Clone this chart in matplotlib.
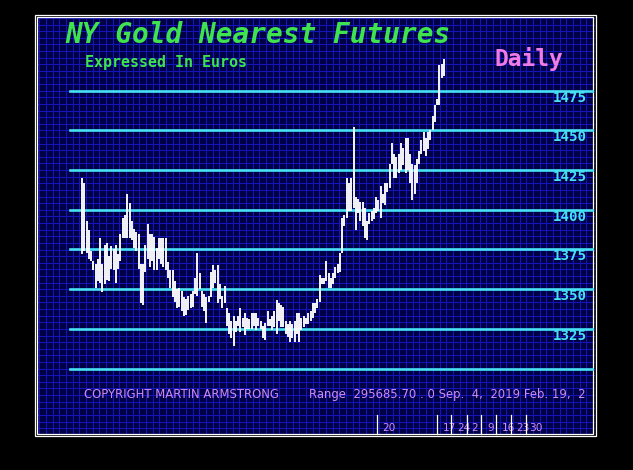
import matplotlib
matplotlib.use("Agg")
import matplotlib.pyplot as plt
from matplotlib.patches import Rectangle
import matplotlib.transforms as mtransforms
import numpy as np

# ---------------- data ----------------
title = "NY Gold Nearest Futures"
subtitle = "Expressed In Euros"
period_label = "Daily"
copyright_text = "COPYRIGHT MARTIN ARMSTRONG"
range_text = "Range  295685.70 . 0 Sep.  4,  2019 Feb. 19,  2"

highs = [1420, 1417, 1393, 1387, 1374, 1368, 1366, 1369, 1382, 1366,
         1378, 1379, 1371, 1377, 1375, 1378, 1372, 1385, 1395, 1397,
         1410, 1404, 1393, 1388, 1386, 1385, 1366, 1366, 1378, 1391,
         1385, 1385, 1383, 1376, 1382, 1382, 1382, 1382, 1367, 1362,
         1362, 1355, 1350, 1351,
         1349, 1345, 1344, 1346, 1347, 1349, 1357, 1373, 1360, 1349,
         1347, 1345, 1346, 1361, 1365, 1362, 1365, 1353, 1346, 1352,
         1338, 1335, 1330, 1333, 1330, 1333, 1338, 1332, 1335, 1332,
         1331, 1335, 1335, 1335, 1332, 1330, 1327, 1329, 1336, 1331,
         1333, 1336,
         1343, 1341, 1340, 1339, 1330, 1328, 1330, 1328, 1330, 1335,
         1335, 1332, 1333, 1332, 1335, 1336, 1341, 1341, 1344, 1359,
         1357, 1357, 1368, 1360, 1357, 1360, 1364, 1366, 1373, 1395,
         1397, 1420, 1417, 1420, 1452, 1408, 1407, 1405, 1405, 1401,
         1393, 1398, 1399, 1401, 1408, 1406, 1415, 1410, 1417, 1417,
         1429, 1442, 1435, 1433, 1435, 1442, 1439, 1445, 1445, 1435,
         1429, 1428, 1432, 1437, 1444, 1449, 1445, 1449, 1450, 1459,
         1466, 1470, 1491, 1492, 1495]
lows = [1372, 1374, 1373, 1369, 1368, 1362, 1351, 1355, 1354, 1348,
        1353, 1356, 1355, 1363, 1362, 1354, 1363, 1368, 1382, 1382,
        1382, 1382, 1381, 1376, 1374, 1363, 1341, 1340, 1361, 1369,
        1364, 1368, 1362, 1362, 1369, 1366, 1364, 1362, 1357, 1351,
        1345, 1342, 1338, 1339,
        1336, 1333, 1334, 1337, 1338, 1339, 1347, 1346, 1350, 1339,
        1336, 1329, 1342, 1345, 1351, 1354, 1341, 1344, 1338, 1341,
        1327, 1322, 1319, 1314, 1323, 1327, 1323, 1326, 1321, 1325,
        1325, 1325, 1327, 1324, 1327, 1325, 1319, 1318, 1327, 1327,
        1324, 1326,
        1322, 1330, 1326, 1326, 1322, 1320, 1317, 1319, 1317, 1322,
        1317, 1324, 1326, 1328, 1328, 1330, 1332, 1335, 1338, 1342,
        1353, 1353, 1355, 1351, 1351, 1353, 1357, 1360, 1361, 1373,
        1390, 1395, 1399, 1399, 1401, 1387, 1398, 1393, 1390, 1382,
        1381, 1391, 1393, 1394, 1398, 1399, 1395, 1404, 1403, 1411,
        1414, 1429, 1420, 1420, 1423, 1425, 1428, 1423, 1425, 1417,
        1406, 1410, 1417, 1429, 1435, 1437, 1434, 1438, 1444, 1450,
        1455, 1466, 1466, 1483, 1484]

levels = [1300, 1325, 1350, 1375, 1400, 1425, 1450, 1475]
level_labels = ["", "1325", "1350", "1375", "1400", "1425", "1450", "1475"]

date_ticks = ["20", "17", "24", "2", "9", "16", "23", "30"]

# ---------------- styling ----------------
W, H = 633, 470
BG_NAVY = "#000044"
GRID_BLUE = "#1414b8"
CYAN = "#46e2f4"
GREEN = "#3fe34e"
PINK = "#f07ae6"
VIOLET = "#cf8cf2"

fig = plt.figure(figsize=(W / 100, H / 100), dpi=100, facecolor="black")

# background (pixel coordinates)
bg = fig.add_axes([0, 0, 1, 1])
bg.set_xlim(0, W)
bg.set_ylim(H, 0)
bg.axis("off")
bg.set_facecolor("black")

px_l, px_r, px_t, px_b = 37.0, 593.5, 17.0, 433.5
bg.add_patch(Rectangle((px_l, px_t), px_r - px_l, px_b - px_t,
                       facecolor=BG_NAVY, edgecolor="none", zorder=0))
# grid
gx = 39.3
while gx < px_r:
    bg.plot([gx, gx], [px_t, px_b], color=GRID_BLUE, lw=0.75, zorder=1)
    gx += 6.67
step_y = 39.7 / 6
gy = 90.7
while gy - step_y > px_t:
    gy -= step_y
while gy < px_b:
    bg.plot([px_l, px_r], [gy, gy], color=GRID_BLUE, lw=0.75, zorder=1)
    gy += step_y

# double white frame
bg.add_patch(Rectangle((34.5, 14.5), 595.8 - 34.5, 436.2 - 14.5,
                       fill=False, edgecolor="white", lw=0.9, zorder=5))
bg.add_patch(Rectangle((36.7, 16.7), 593.4 - 36.7, 433.8 - 16.7,
                       fill=False, edgecolor="white", lw=0.9, zorder=5))

# bottom date ticks
tick_px = [376.5, 436.5, 451.3, 466.5, 481.2, 496.2, 511.2, 526.2]
label_px = [382.5, 442.5, 457.0, 471.5, 487.0, 501.5, 516.0, 529.0]
for tx, lx, lab in zip(tick_px, label_px, date_ticks):
    bg.plot([tx, tx], [415, 434], color="white", lw=0.9, zorder=4)
    bg.text(lx, 428, lab, color=VIOLET, fontsize=7.6, family="DejaVu Sans",
            ha="left", va="center", zorder=4)

# texts
bg.text(65, 35, title, color=GREEN, fontsize=20, family="DejaVu Sans Mono",
        weight="bold", style="oblique", ha="left", va="center", zorder=4)
bg.text(85, 62.5, subtitle, color=GREEN, fontsize=10.8, family="DejaVu Sans Mono",
        weight="bold", ha="left", va="center", zorder=4)
bg.text(494, 59, period_label, color=PINK, fontsize=16.5, family="DejaVu Sans Mono",
        weight="bold", ha="left", va="center", zorder=4)
bg.text(84, 394.5, copyright_text, color=VIOLET, fontsize=8.4, family="DejaVu Sans",
        ha="left", va="center", zorder=4)
t = bg.text(309, 394.5, range_text, color=VIOLET, fontsize=8.4, family="DejaVu Sans",
            ha="left", va="center", zorder=4)
t.set_clip_path(Rectangle((0, 0), 596, H, transform=bg.transData))

# ---------------- data axes ----------------
n = len(highs)
x0_px, x1_px = 82.0, 444.0
dx = (x1_px - x0_px) / (n - 1)
ax_left_px, ax_right_px = px_l, px_r
ax_top_px, ax_bot_px = px_t, px_b
ppu = 39.7 / 25.0  # pixels per price unit
ymax = 1475 + (90.7 - ax_top_px) / ppu
ymin = 1475 - (ax_bot_px - 90.7) / ppu
xmin = (ax_left_px - x0_px) / dx
xmax = (ax_right_px - x0_px) / dx

ax = fig.add_axes([ax_left_px / W, 1 - ax_bot_px / H,
                   (ax_right_px - ax_left_px) / W, (ax_bot_px - ax_top_px) / H])
ax.set_facecolor("none")
ax.axis("off")
ax.set_xlim(xmin, xmax)
ax.set_ylim(ymin, ymax)

line_start = (70 - ax_left_px) / (ax_right_px - ax_left_px)
for lev, lab in zip(levels, level_labels):
    ax.axhline(lev, xmin=line_start, xmax=1.0, color=CYAN, lw=1.9, zorder=2)
    if lab:
        trans = mtransforms.blended_transform_factory(ax.transAxes, ax.transData)
        ax.text((553 - ax_left_px) / (ax_right_px - ax_left_px), lev - 7 / ppu, lab,
                transform=trans, color=CYAN, fontsize=10.2,
                family="DejaVu Sans Mono", weight="bold",
                ha="left", va="center", zorder=3)

idx = np.arange(n)
ax.vlines(idx, lows, highs, color="white", lw=1.35, zorder=4)

fig.savefig("out.png", dpi=100, facecolor="black")
